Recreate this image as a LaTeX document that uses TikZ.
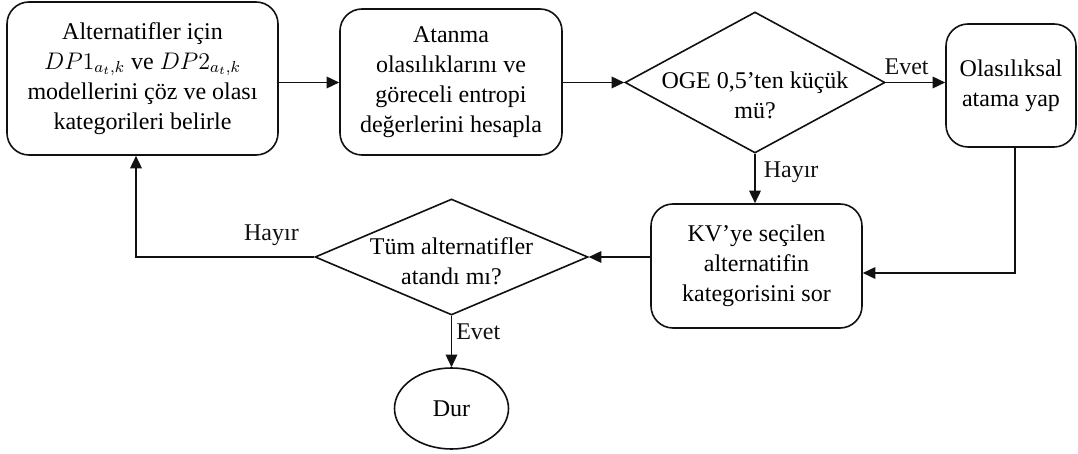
\documentclass[tikz,border=0pt]{standalone}
\usepackage{amsmath}
\usepackage{fontspec}
\setmainfont{Liberation Serif}
\usepackage{tikz}
\usetikzlibrary{arrows.meta,positioning,shapes.geometric}
\definecolor{ink}{HTML}{111111}
\tikzset{
  >={Triangle[length=6.3pt,width=5.8pt]},
  txt/.style={font=\fontsize{12}{15}\selectfont},
  procbox/.style={txt,draw=ink,rounded corners=11pt,fill=white,line width=.8pt,align=center,inner sep=2pt},
  decision/.style={diamond,draw=ink,fill=white,line width=.8pt,inner sep=0pt},
  dectext/.style={txt,align=center,inner sep=0pt},
  terminal/.style={txt,ellipse,draw=ink,fill=white,line width=.8pt,inner sep=0pt},
  flow/.style={->,line width=.8pt,color=ink},
  lbl/.style={txt,inner sep=2pt},
}
\begin{document}
\begin{tikzpicture}[x=0.5pt,y=-0.5pt]
  \useasboundingbox (0,0) rectangle (1078,454);
  % top row
  \node[procbox,minimum width=135.5pt,minimum height=76.5pt] (solve) at (142.5,78.5)
    {Alternatifler için\\ $DP1_{a_t,k}$ ve $DP2_{a_t,k}$\\ modellerini çöz ve olası\\ kategorileri belirle};
  \node[procbox,minimum width=111pt,minimum height=73pt] (entropy) at (451,82)
    {Atanma\\ olasılıklarını ve\\ göreceli entropi\\ değerlerini hesapla};
  \node[decision,minimum width=130pt,minimum height=70.5pt] (ogecheck) at (755,82.5) {};
  \node[dectext] (ogetext) at (755,95) {OGE 0,5’ten küçük\\ mü?};
  \node[procbox,minimum width=65pt,minimum height=61.5pt] (probassign) at (1011,85.5)
    {Olasılıksal\\ atama yap};
  % bottom row
  \node[procbox,minimum width=105.5pt,minimum height=62pt] (askdm) at (756.5,266)
    {KV’ye seçilen\\ alternatifin\\ kategorisini sor};
  \node[decision,minimum width=136.5pt,minimum height=58pt] (allcheck) at (451.5,257) {};
  \node[dectext] (alltext) at (451.5,261) {Tüm alternatifler\\ atandı mı?};
  \node[terminal,minimum width=57pt,minimum height=40.5pt] (stop) at (451.5,408.5) {Dur};
  \coordinate (probout) at ([xshift=2pt]probassign.south);
  \coordinate (askin) at ([yshift=-3.5pt]askdm.east);
  \coordinate (loopup) at ([xshift=-3.25pt]solve.south);
  % connectors
  \draw[flow] (solve.east |- ogecheck) -- (entropy.west |- ogecheck);
  \draw[flow] (entropy.east |- ogecheck) -- (ogecheck.west);
  \draw[flow] (ogecheck.east) -- node[lbl,above=1.5pt,pos=.35] (yes1) {Evet} (probassign.west |- ogecheck);
  \draw[flow] (ogecheck.south) -- node[lbl,right=2pt,pos=.37] (no1) {Hayır} (ogecheck.south |- askdm.north);
  \draw[flow] (probout) |- (askin);
  \draw[flow] (askdm.west |- allcheck) -- (allcheck.east);
  \draw[flow] (allcheck.west) -| node[lbl,above=3.5pt,pos=.12] (no2) {Hayır} (loopup);
  \draw[flow] (allcheck.south) -- node[lbl,right,pos=.32] (yes2) {Evet} (stop.north);
\end{tikzpicture}
\end{document}
